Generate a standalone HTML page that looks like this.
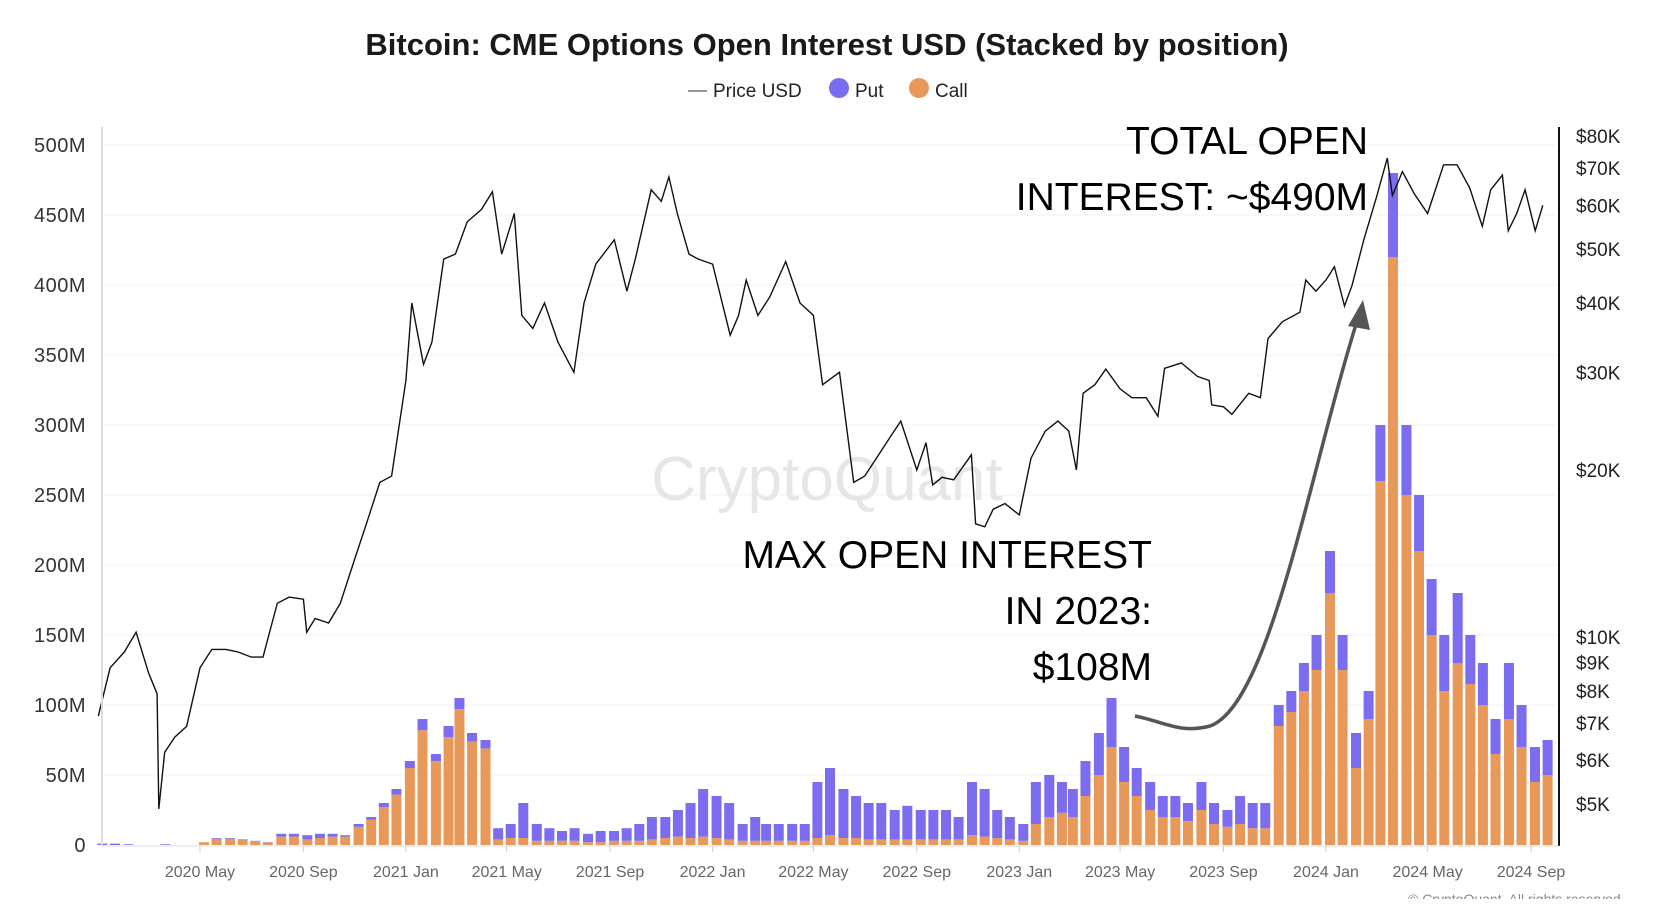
<!DOCTYPE html>
<html><head><meta charset="utf-8">
<style>
html,body{margin:0;padding:0;background:#fff;}
body{width:1663px;height:899px;overflow:hidden;font-family:"Liberation Sans",sans-serif;}
svg text{font-family:"Liberation Sans",sans-serif;}
</style></head>
<body>
<svg id="chart" width="1663" height="899" viewBox="0 0 1663 899" xmlns="http://www.w3.org/2000/svg">
  <text x="827" y="55" text-anchor="middle" font-size="31" font-weight="bold" fill="#1a1a1a">Bitcoin: CME Options Open Interest USD (Stacked by position)</text>
  <g>
    <g>
      <line x1="688" y1="91" x2="707" y2="91" stroke="#777" stroke-width="1.5"/>
      <text x="713" y="97" font-size="19" fill="#222">Price USD</text>
    </g>
    <g>
      <circle cx="839" cy="88" r="10" fill="#7b6cf0"/>
      <text x="855" y="97" font-size="19" fill="#222">Put</text>
    </g>
    <g>
      <circle cx="919" cy="88" r="10" fill="#e8995a"/>
      <text x="935" y="97" font-size="19" fill="#222">Call</text>
    </g>
  </g>
  <g id="grid"></g>
  <text x="827" y="500" text-anchor="middle" font-size="62" fill="#e6e6e6">CryptoQuant</text>
  <g id="bars"></g>
  <path id="price" fill="none" stroke="#111" stroke-width="1.4"/>
  <g id="leftAxis"></g>
  <g id="rightAxis"></g>
  <g id="xAxis"></g>
  <g>
    <text x="1368" y="154" text-anchor="end" font-size="39" fill="#000">TOTAL OPEN</text>
    <text x="1368" y="210" text-anchor="end" font-size="39" fill="#000">INTEREST: ~$490M</text>
  </g>
  <g>
    <text x="1152" y="568" text-anchor="end" font-size="39" fill="#000">MAX OPEN INTEREST</text>
    <text x="1152" y="624" text-anchor="end" font-size="39" fill="#000">IN 2023:</text>
    <text x="1152" y="680" text-anchor="end" font-size="39" fill="#000">$108M</text>
  </g>
  <g>
    <path d="M1135 716 C1165 722 1180 734 1210 726 C1270 705 1310 470 1358 318" fill="none" stroke="#555" stroke-width="3.5"/>
    <polygon points="1363,300 1348,326 1370,330" fill="#555"/>
  </g>
  <text x="1408" y="904" font-size="14" fill="#888">© CryptoQuant. All rights reserved.</text>
</svg>
<script>
const yTicks = [0,50,100,150,200,250,300,350,400,450,500];
const yTickLabels = ["0","50M","100M","150M","200M","250M","300M","350M","400M","450M","500M"];
const priceTicks = [5000,6000,7000,8000,9000,10000,20000,30000,40000,50000,60000,70000,80000];
const priceTickLabels = ["$5K","$6K","$7K","$8K","$9K","$10K","$20K","$30K","$40K","$50K","$60K","$70K","$80K"];
const xTickDates = ["2020-05-01","2020-09-01","2021-01-01","2021-05-01","2021-09-01","2022-01-01","2022-05-01","2022-09-01","2023-01-01","2023-05-01","2023-09-01","2024-01-01","2024-05-01","2024-09-01"];
const xTickLabels = ["2020 May","2020 Sep","2021 Jan","2021 May","2021 Sep","2022 Jan","2022 May","2022 Sep","2023 Jan","2023 May","2023 Sep","2024 Jan","2024 May","2024 Sep"];

const putOI = [
 1,1,0.5,0,0,0.5,0,0,0,0.5,0.5,0.5,0.3,0.3,2,2,3,3,2,1,2,2,3,4,
 5,8,5,8,8,6,6,8,10,25,12,9,7,9,6,8,7,9,12,16,15,19,25,34,
 30,26,12,17,12,12,12,12,40,48,35,30,26,26,21,24,21,21,21,16,38,34,20,16,
 12,30,30,22,20,25,30,35,25,20,20,15,15,13,20,15,12,20,18,18,15,15,20,25,
 30,25,25,20,40,60,50,40,40,40,50,35,30,25,40,30,25,25];
const callOI = [
 0,0,0,0,0,0,0,0,2,4.5,4.5,3.5,2.7,1.7,6,6,4,5,6,6,13,18,27,36,
 55,82,60,77,97,74,69,4,5,5,3,3,3,3,2,2,3,3,3,4,5,6,5,6,
 5,4,3,3,3,3,3,3,5,7,5,5,4,4,4,4,4,4,4,4,7,6,5,4,
 3,15,20,23,20,35,50,70,45,35,25,20,20,17,25,15,13,15,12,12,85,95,110,125,
 180,125,55,90,260,420,250,210,150,110,130,115,100,65,90,70,45,50];

const priceDates = ["2020-01-01","2020-01-15","2020-02-01","2020-02-15","2020-03-01","2020-03-11","2020-03-13","2020-03-20","2020-04-01","2020-04-15","2020-05-01","2020-05-15","2020-06-01","2020-06-15","2020-07-01","2020-07-15","2020-08-01","2020-08-15","2020-09-01","2020-09-05","2020-09-15","2020-10-01","2020-10-15","2020-11-01","2020-11-15","2020-12-01","2020-12-15",
"2021-01-01","2021-01-08","2021-01-22","2021-02-01","2021-02-15","2021-03-01","2021-03-15","2021-04-01","2021-04-14","2021-04-25","2021-05-10","2021-05-19","2021-06-01","2021-06-15","2021-07-01","2021-07-20","2021-08-01","2021-08-15","2021-09-06","2021-09-21","2021-10-01","2021-10-20","2021-11-01","2021-11-10","2021-11-20","2021-12-04","2021-12-15",
"2022-01-01","2022-01-22","2022-02-01","2022-02-10","2022-02-24","2022-03-10","2022-03-29","2022-04-15","2022-05-01","2022-05-12","2022-06-01","2022-06-18","2022-07-01","2022-07-15","2022-08-01","2022-08-13","2022-09-01","2022-09-12","2022-09-20","2022-10-01","2022-10-15","2022-11-05","2022-11-10","2022-11-21","2022-12-01","2022-12-15",
"2023-01-01","2023-01-15","2023-02-01","2023-02-16","2023-03-01","2023-03-10","2023-03-18","2023-04-01","2023-04-14","2023-05-01","2023-05-15","2023-06-01","2023-06-15","2023-06-23","2023-07-13","2023-08-01","2023-08-15","2023-08-18","2023-09-01","2023-09-11","2023-10-01","2023-10-15","2023-10-24","2023-11-10","2023-12-01","2023-12-08","2023-12-20",
"2024-01-01","2024-01-11","2024-01-23","2024-02-01","2024-02-15","2024-03-01","2024-03-14","2024-03-20","2024-04-01","2024-04-15","2024-05-01","2024-05-20","2024-06-05","2024-06-20","2024-07-05","2024-07-15","2024-07-29","2024-08-05","2024-08-15","2024-08-25","2024-09-06","2024-09-15"];
const priceVals = [7200,8800,9400,10200,8600,7900,4900,6200,6600,6900,8800,9500,9500,9400,9200,9200,11500,11800,11700,10200,10800,10600,11500,13800,16000,19000,19500,
29000,40000,31000,34000,48000,49000,56000,59000,63500,49000,58000,38000,36000,40000,34000,30000,40000,47000,52000,42000,48000,64000,61000,67500,58000,49000,48000,
47000,35000,38000,44000,38000,41000,47500,40000,38000,28500,30000,19000,19500,21000,23000,24500,20000,22400,18800,19400,19200,21300,16000,15800,17000,17400,
16600,21000,23500,24500,23500,20000,27500,28500,30400,28000,27000,27000,25000,30500,31200,29500,29000,26200,26000,25200,27500,27000,34500,37000,38500,44000,42000,
44000,46500,39500,43000,52000,62000,73000,62500,69000,63000,58000,71000,71000,64500,55000,64000,68000,54000,58000,64000,54000,60000];

const X0 = Date.UTC(2020,4,1), X1 = Date.UTC(2024,8,1);
const PX0 = 200, PX1 = 1531;
function xScale(d){ const t = (typeof d === 'string') ? Date.parse(d+"T00:00:00Z") : d; return PX0 + (t - X0)/(X1 - X0)*(PX1 - PX0); }
function yScale(v){ return 845 - v/500*(845-145); }
function pScale(p){ return 136 + Math.log(80000/p)/Math.log(16)*(804-136); }
const NS = "http://www.w3.org/2000/svg";
function mk(tag, attrs, parent){ const e = document.createElementNS(NS, tag); for (const k in attrs) e.setAttribute(k, attrs[k]); parent.appendChild(e); return e; }

const grid = document.getElementById('grid');
const left = document.getElementById('leftAxis');
yTicks.forEach((v,i)=>{
  const y = yScale(v);
  if (v>0){ const g = mk('line',{x1:104,x2:1557,y1:y,y2:y,stroke:'#f0f0f0','stroke-width':1},grid);
    
     }
  const t = mk('text',{x:86,y:y+7,'text-anchor':'end','font-size':20,fill:'#333','letter-spacing':'0.5'},left);
  
  
  t.textContent = yTickLabels[i];
});
mk('line',{x1:102,x2:102,y1:127,y2:846,stroke:'#d8dce6','stroke-width':2},left);

const right = document.getElementById('rightAxis');
mk('line',{x1:1559,x2:1559,y1:127,y2:846,stroke:'#111','stroke-width':2},right);
priceTicks.forEach((p,i)=>{
  const t = mk('text',{x:1576,y:pScale(p)+7,'font-size':19,fill:'#222'},right);
  
  
  t.textContent = priceTickLabels[i];
});

const xa = document.getElementById('xAxis');
mk('line',{x1:102,x2:1559,y1:846,y2:846,stroke:'#d8dce6','stroke-width':1},xa);
xTickDates.forEach((d,i)=>{
  const x = xScale(d);
  mk('line',{x1:x,x2:x,y1:846,y2:852,stroke:'#ccc','stroke-width':1},xa);
  const t = mk('text',{x:x,y:877,'text-anchor':'middle','font-size':16,fill:'#666'},xa);
  
  
  t.textContent = xTickLabels[i];
});

const bars = document.getElementById('bars');
for (let i=0;i<callOI.length;i++){
  const yr = 2020 + Math.floor(i/24), m = Math.floor((i%24)/2), day = (i%2===0)?1:16;
  const cx = xScale(Date.UTC(yr,m,day)) + 4;
  const w = 10;
  const yc = yScale(callOI[i]), yp = yScale(callOI[i]+putOI[i]);
  const rc = mk('rect',{x:cx-w/2,y:yc,width:w,height:845-yc,fill:'#e8995a'},bars);
  
  
  const rp = mk('rect',{x:cx-w/2,y:yp,width:w,height:yc-yp,fill:'#7b6cf0'},bars);
  
  
}

let d = "";
priceDates.forEach((dt,i)=>{ d += (i?"L":"M") + xScale(dt).toFixed(1) + " " + pScale(priceVals[i]).toFixed(1) + " "; });
document.getElementById('price').setAttribute('d', d);
</script>
</body></html>
